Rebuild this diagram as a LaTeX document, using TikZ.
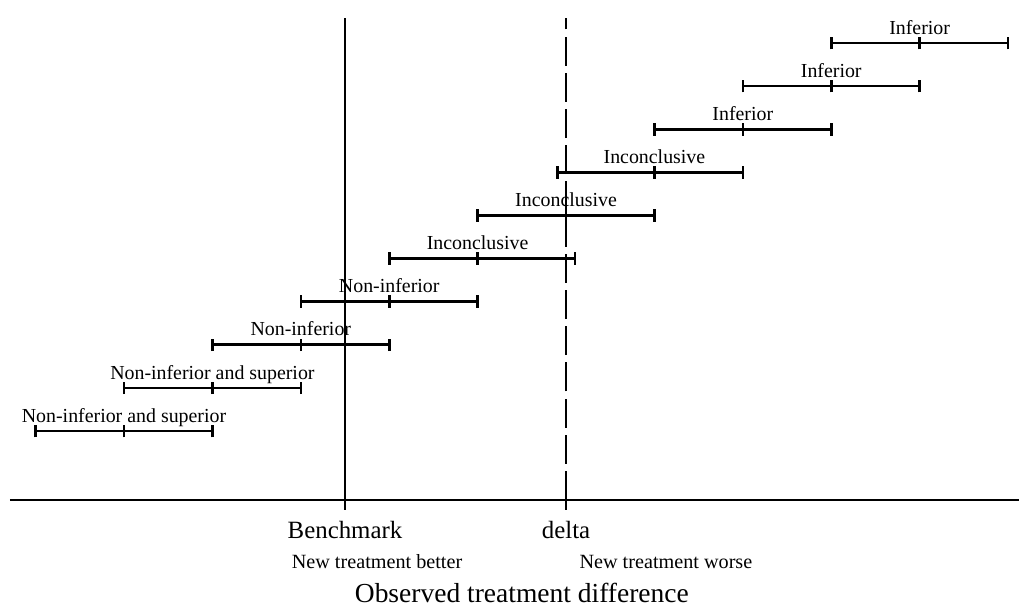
\documentclass[tikz,border=0pt]{standalone}
\usepackage{fontspec}
\setmainfont{Liberation Serif}
\begin{document}
\begin{tikzpicture}[x=2cm,y=2cm,line join=round,font=\fontsize{12.8}{15}\selectfont]
\def\dlt{2.5}
\def\tk{.071}
\useasboundingbox (-3.903,-1.210) rectangle (7.624,5.656);
\draw[line width=1pt] (-3.79,0)--(7.624,0); % truc hoanh
\draw[line width=1.5pt] (0,-.11)--(0,5.45); % benchmark
\draw[line width=1.5pt,dash pattern=on 18.7pt off 4.6pt] (\dlt,0)--(\dlt,5.45); % delta
\draw[line width=1.5pt] (\dlt,0)--(\dlt,-.11);
\node[anchor=base,font=\fontsize{16}{19}\selectfont] (bm) at (0,-.441) {Benchmark};
\node[anchor=base,font=\fontsize{16}{19}\selectfont] (dl) at (\dlt,-.441) {delta};
\node[anchor=base,font=\fontsize{13}{15}\selectfont] (better) at (.362,-.78) {New treatment better};
\node[anchor=base,font=\fontsize{13}{15}\selectfont] (worse) at (3.63,-.78) {New treatment worse};
\node[anchor=base,font=\fontsize{17.7}{21}\selectfont] (obs) at (2,-1.154) {Observed treatment difference};
% cac khoang tin cay
\foreach \l/\c/\r/\t [count=\i from 0] in {
  -3.5/-2.5/-1.5/Non-inferior and superior,
  -2.5/-1.5/-.5/Non-inferior and superior,
  -1.5/-.5/.5/Non-inferior,
  -.5/.5/1.5/Non-inferior,
  .5/1.5/2.6/Inconclusive,
  1.5/2.5/3.5/Inconclusive,
  2.4/3.5/4.5/Inconclusive,
  3.5/4.5/5.5/Inferior,
  4.5/5.5/6.5/Inferior,
  5.5/6.5/7.5/Inferior}{
  \pgfmathsetmacro{\y}{.7805+.4876*\i}
  \draw[line width=1.7pt] (\l,\y)--(\r,\y) (\l,\y-\tk)--(\l,\y+\tk)
    (\c,\y-\tk)--(\c,\y+\tk) (\r,\y-\tk)--(\r,\y+\tk);
  \node[anchor=base] (lab\i) at (\c,\y+.1) {\t};
}
\end{tikzpicture}
\end{document}
